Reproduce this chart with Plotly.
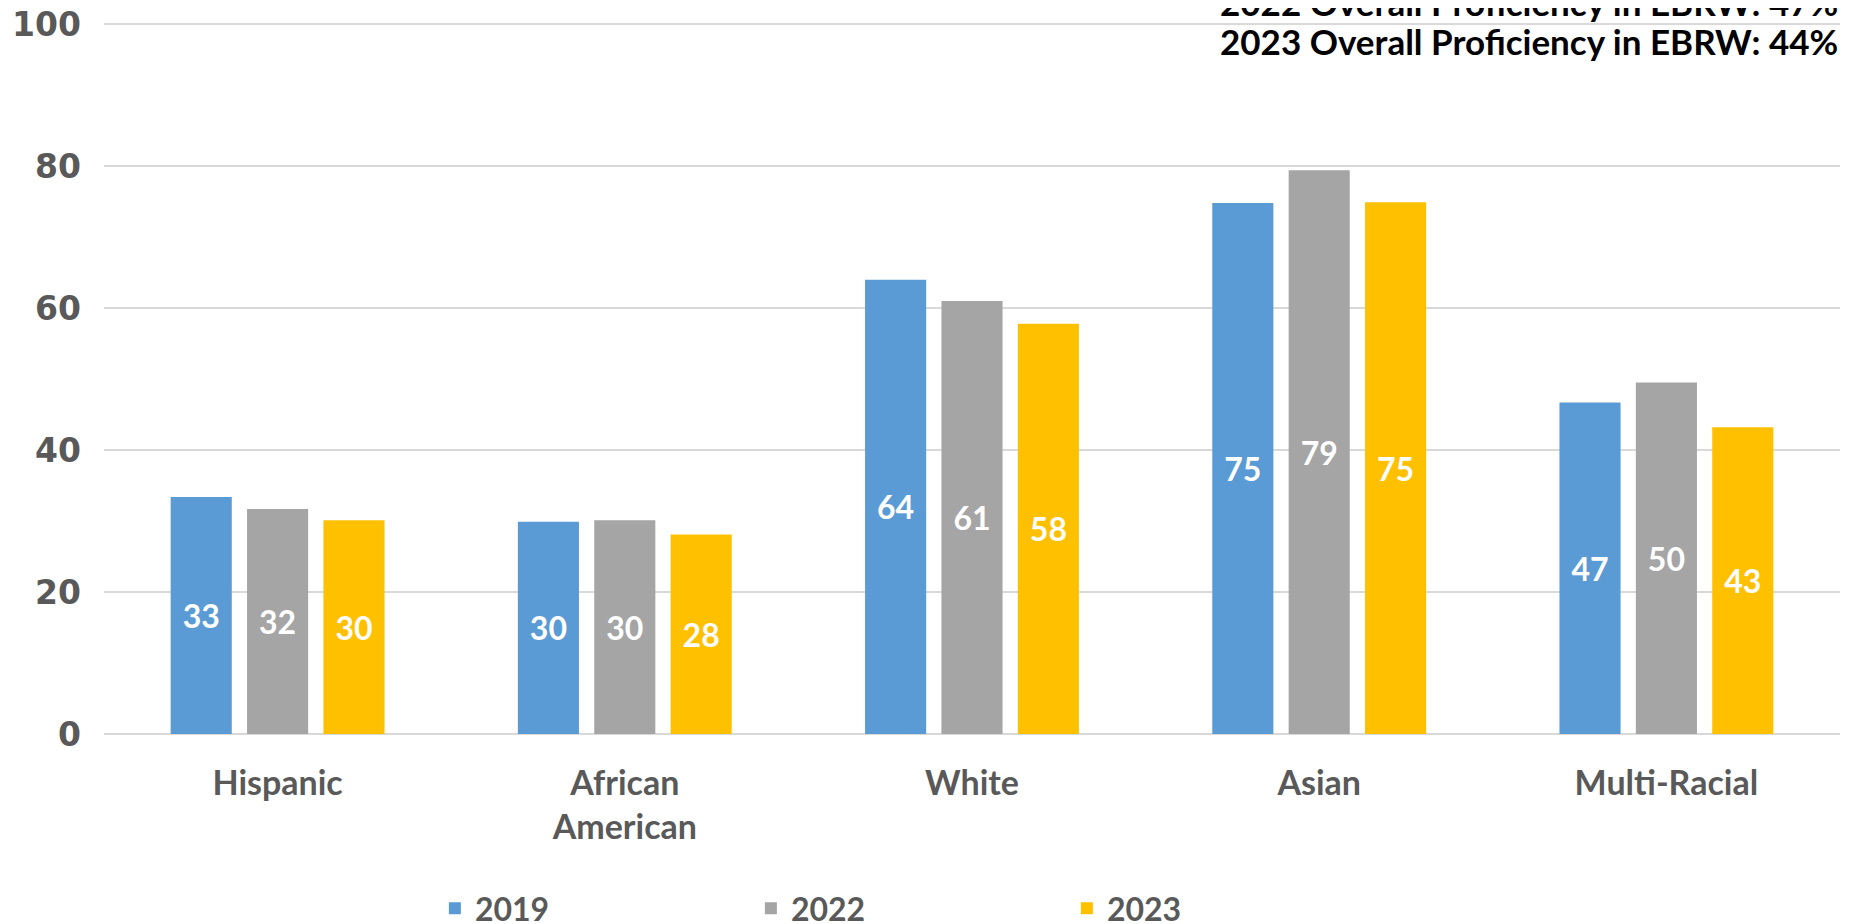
import plotly.graph_objects as go

categories = ["Hispanic", "African<br>American", "White", "Asian", "Multi-Racial"]
years = ["2019", "2022", "2023"]
values_2019 = [33.4, 29.9, 64.0, 74.8, 46.7]
values_2022 = [31.7, 30.1, 61.0, 79.4, 49.5]
values_2023 = [30.1, 28.1, 57.8, 74.9, 43.2]
colors = ["#5B9BD5", "#A5A5A5", "#FFC000"]
notes = ["2022 Overall Proficiency in EBRW: 47%", "2023 Overall Proficiency in EBRW: 44%"]

fig = go.Figure()
for name, vals, col in zip(years, [values_2019, values_2022, values_2023], colors):
    fig.add_trace(go.Bar(
        x=categories, y=vals, name=name, marker=dict(color=col, line=dict(width=0)),
        texttemplate="%{y:.0f}", textposition="inside", insidetextanchor="middle",
        textangle=0, textfont=dict(family="Lato", size=32, color="white", weight="bold"),
    ))

fig.update_layout(
    width=1842, height=916,
    paper_bgcolor="white", plot_bgcolor="white",
    margin=dict(l=96, r=10, t=14, b=190, autoexpand=False),
    barmode="group", bargap=0.34, bargroupgap=0.2,
    showlegend=True,
    legend=dict(orientation="h", x=0.1906, xanchor="left", y=-0.245, yanchor="middle",
                entrywidth=271, entrywidthmode="pixels",
                font=dict(family="Lato", size=32, color="#595959", weight="bold"),
                traceorder="normal"),
    xaxis=dict(showgrid=False, showline=False, ticks="", automargin=False,
               ticklabelstandoff=26,
               tickfont=dict(family="Lato", size=34, color="#595959", weight="bold")),
    yaxis=dict(range=[0, 100.3], tickvals=[0, 20, 40, 60, 80, 100], showgrid=True,
               gridcolor="#D9D9D9", gridwidth=2,
               zeroline=True, zerolinecolor="#D9D9D9", zerolinewidth=2, showline=False,
               ticks="", ticklabelstandoff=22, automargin=False, ticklabeloverflow="allow",
               tickfont=dict(family="DejaVu Sans", size=33, color="#595959", weight="bold")),
)

note_y = [1.0 + (24 - 4) / 712, 1.0 + (24 - 43) / 712]
for t, yy in zip(notes, note_y):
    fig.add_annotation(text=t, xref="paper", yref="paper", x=1.0, xanchor="right",
                       y=yy, yanchor="middle", showarrow=False,
                       font=dict(family="Lato", size=35, color="black", weight="bold"))

fig.write_html("out.html")
